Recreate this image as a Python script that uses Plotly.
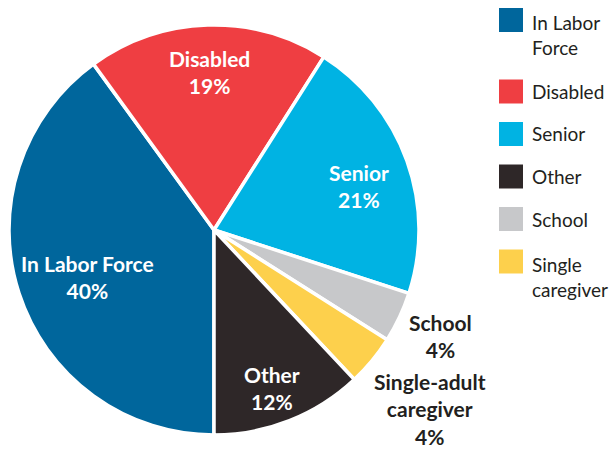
import math
import plotly.graph_objects as go

# Share of adults by main reason, in percent (legend order)
categories = ["In Labor Force", "Disabled", "Senior", "Other", "School", "Single caregiver"]
values = [40, 19, 21, 12, 4, 4]
slice_text = ["In Labor Force", "Disabled", "Senior", "Other", "School", "Single-adult<br>caregiver"]
legend_text = ["In Labor<br>Force", "Disabled", "Senior", "Other", "School", "Single<br>caregiver"]
colors = ["#00669c", "#ef3e42", "#00b3e3", "#2e2728", "#c7c8ca", "#fdd04c"]
# order in which slices run clockwise round the pie
pie_order = ["In Labor Force", "Disabled", "Senior", "School", "Single caregiver", "Other"]

W, H = 611, 450
CX, CY, R = 214, 230, 205          # pie centre and radius in pixels
START = 180                        # first slice starts at 6 o'clock
FONT = "Lato, Roboto, sans-serif"
DARK = "#231f20"

idx = [categories.index(c) for c in pie_order]
# label placement: fraction of radius and small angular nudge (degrees)
label_radius = {"In Labor Force": 0.66, "Disabled": 0.77, "Senior": 0.74,
                "Other": 0.82, "School": 1.22, "Single caregiver": 1.37}
label_nudge = {"In Labor Force": -2.5, "Disabled": 0, "Senior": 3,
               "Other": 1.5, "School": 0, "Single caregiver": 0}
inside = {"In Labor Force", "Disabled", "Senior", "Other"}

fig = go.Figure(go.Pie(
    labels=[categories[i] for i in idx],
    values=[values[i] for i in idx],
    sort=False,
    direction="clockwise",
    rotation=START,
    marker=dict(colors=[colors[i] for i in idx], line=dict(color="white", width=3.5)),
    textinfo="none",
    hoverinfo="label+percent",
    showlegend=False,
    domain=dict(x=[(CX - R) / W, (CX + R) / W], y=[1 - (CY + R) / H, 1 - (CY - R) / H]),
))

# slice labels placed along each slice's mid angle
total = sum(values)
cum = 0
annotations = []
for i in idx:
    name, v = categories[i], values[i]
    mid = START + (cum + v / 2) / total * 360 + label_nudge[name]
    cum += v
    a = math.radians(mid)
    rf = label_radius[name]
    px = CX + rf * R * math.sin(a)
    py = CY - rf * R * math.cos(a)
    annotations.append(dict(
        x=px / W, y=1 - py / H, xref="paper", yref="paper",
        text=f"{slice_text[i]}<br>{v}%", showarrow=False,
        xanchor="center", yanchor="middle", align="center",
        font=dict(family=FONT, size=21, color="white" if name in inside else DARK,
                  weight="bold"),
    ))

# legend: coloured squares with labels to the right
shapes = []
y = 20
SQ = 24
for name, col in zip(legend_text, colors):
    lines = name.count("<br>") + 1
    shapes.append(dict(
        type="rect", xref="paper", yref="paper",
        x0=499 / W, x1=(499 + SQ) / W,
        y0=1 - (y - SQ / 2) / H, y1=1 - (y + SQ / 2) / H,
        fillcolor=col, line=dict(width=0),
    ))
    text_center = y + (lines - 1) * 30 / 2
    annotations.append(dict(
        x=530 / W, y=1 - text_center / H, xref="paper", yref="paper",
        text=name, showarrow=False, xanchor="left", yanchor="middle", align="left",
        font=dict(family=FONT, size=19, color=DARK),
    ))
    y += 42.5 + (lines - 1) * 29

fig.update_layout(
    width=W, height=H,
    margin=dict(l=0, r=0, t=0, b=0),
    paper_bgcolor="white", plot_bgcolor="white",
    annotations=annotations, shapes=shapes,
)

fig.write_html("out.html")
